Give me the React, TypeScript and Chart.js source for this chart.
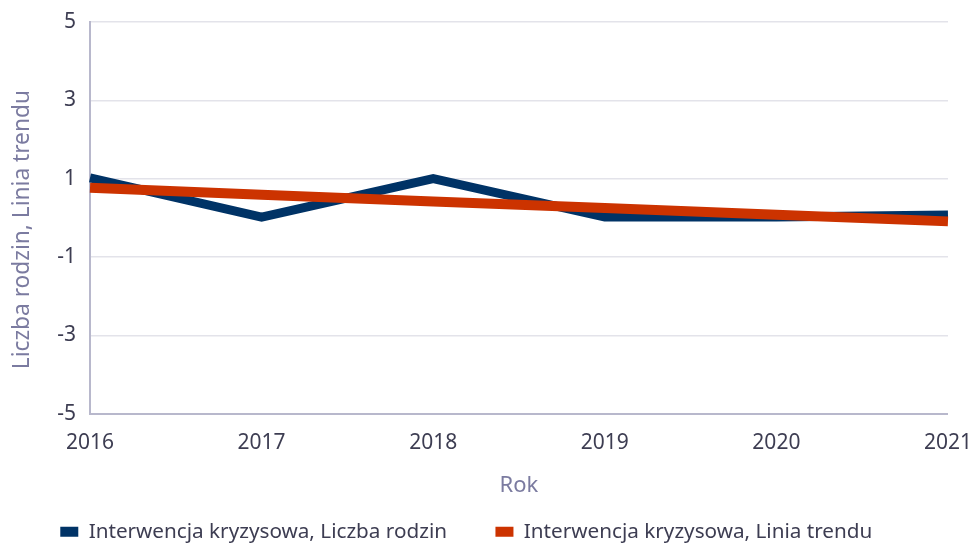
import React, { useEffect, useRef } from "react";
import { Chart, registerables } from "chart.js";

Chart.register(...registerables);

const years = ["2016", "2017", "2018", "2019", "2020", "2021"];
const liczbaRodzin = [1.02, 0.02, 1.0, 0.02, 0.02, 0.07];
const liniaTrendu = [0.77, 0.59, 0.42, 0.25, 0.08, -0.09];
const yTicks = [-5, -3, -1, 1, 3, 5];
const seriesNames = [
  "Interwencja kryzysowa, Liczba rodzin",
  "Interwencja kryzysowa, Linia trendu",
];
const xTitle = "Rok";
const yTitle = "Liczba rodzin, Linia trendu";

const FONT = "'Noto Sans', 'Open Sans', sans-serif";

export default function App() {
  const ref = useRef<HTMLCanvasElement | null>(null);
  useEffect(() => {
    document.body.style.margin = "0";
    const ctx = ref.current!;
    const chart = new Chart(ctx, {
      type: "line",
      data: {
        labels: years,
        datasets: [
          {
            label: seriesNames[0],
            data: liczbaRodzin,
            borderColor: "#003366",
            backgroundColor: "#003366",
            borderWidth: 9,
            pointRadius: 0,
            tension: 0,
            order: 1,
          },
          {
            label: seriesNames[1],
            data: liniaTrendu,
            borderColor: "#cc3300",
            backgroundColor: "#cc3300",
            borderWidth: 10,
            pointRadius: 0,
            tension: 0,
            order: 0,
          },
        ],
      },
      options: {
        animation: false,
        responsive: false,
        layout: { padding: { left: 9, right: 0, top: 22, bottom: -8 } },
        plugins: {
          legend: {
            position: "bottom",
            labels: {
              boxWidth: 18,
              boxHeight: 10,
              color: "#3d3d52",
              font: { family: FONT, size: 20.7 },
              padding: 0,
              generateLabels: (c: any) => {
                const items = Chart.defaults.plugins.legend.labels.generateLabels(c);
                items.sort((a: any, b: any) => a.datasetIndex - b.datasetIndex);
                items.forEach((it: any) => {
                  it.lineWidth = 0;
                  it.text = it.text + "         ";
                });
                return items;
              },
            },
          },
          tooltip: { enabled: false },
        },
        scales: {
          x: {
            offset: false,
            grid: {
              display: true,
              color: "transparent",
              drawTicks: true,
              tickLength: 17,
              tickColor: "transparent",
            },
            border: { color: "#b8b8cc", width: 2 },
            ticks: {
              color: "#3d3d52",
              font: { family: FONT, size: 21 },
              padding: 0,
              maxRotation: 0,
            },
            title: {
              display: true,
              text: xTitle,
              color: "#7b7ba0",
              font: { family: FONT, size: 22 },
              padding: { top: 17, bottom: 22 },
            },
          },
          y: {
            min: -5,
            max: 5,
            afterBuildTicks: (axis: any) => {
              axis.ticks = yTicks.map((v) => ({ value: v }));
            },
            grid: {
              color: "#e3e3ea",
              lineWidth: 1.5,
              drawTicks: true,
              tickLength: 14,
              tickColor: "transparent",
            },
            border: { color: "#b8b8cc", width: 2 },
            ticks: {
              color: "#3d3d52",
              font: { family: FONT, size: 21 },
              padding: 0,
            },
            title: {
              display: true,
              text: yTitle + "    ",
              color: "#7b7ba0",
              font: { family: FONT, size: 22.7 },
              padding: { top: 0, bottom: 21 },
            },
          },
        },
      },
    });
    return () => chart.destroy();
  }, []);
  return (
    <div style={{ width: 972, height: 544 }}>
      <canvas ref={ref} width={972} height={544} />
    </div>
  );
}
